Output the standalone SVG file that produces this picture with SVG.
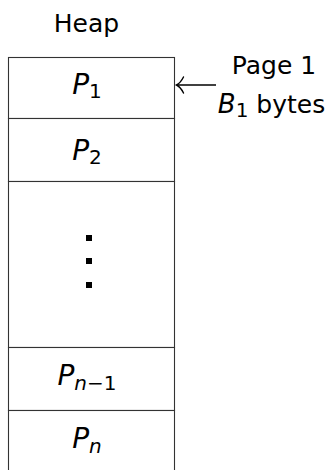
<svg xmlns="http://www.w3.org/2000/svg" width="336" height="470" viewBox="0 0 336 470">
  <style>
    text { font-family: "DejaVu Sans", "Liberation Sans", sans-serif; fill: #000; }
    .lbl { font-size: 25px; }
    .pg { font-size: 28px; font-style: italic; text-anchor: middle; }
    .sub { font-size: 20px; font-style: normal; }
    .subi { font-size: 20px; font-style: italic; }
    .cell { fill: #fff; stroke: #333; stroke-width: 1.1; }
  </style>

  <text class="lbl" x="86.5" y="32" text-anchor="middle">Heap</text>

  <g id="page1">
    <rect class="cell" x="8.5" y="57.5" width="166" height="61"/>
    <text class="pg" x="87" y="93.5">P<tspan class="sub" dy="4">1</tspan></text>
  </g>
  <g id="page2">
    <rect class="cell" x="8.5" y="118.5" width="166" height="63"/>
    <text class="pg" x="87" y="160">P<tspan class="sub" dy="4">2</tspan></text>
  </g>
  <g id="gap">
    <rect class="cell" x="8.5" y="181.5" width="166" height="166"/>
    <rect x="86" y="235" width="6" height="6" fill="#000"/>
    <rect x="86" y="258" width="6" height="6" fill="#000"/>
    <rect x="86" y="282" width="6" height="6" fill="#000"/>
  </g>
  <g id="pageN1">
    <rect class="cell" x="8.5" y="347.5" width="166" height="63"/>
    <text class="pg" x="87" y="384.5">P<tspan class="subi" dy="5">n</tspan><tspan class="sub">−1</tspan></text>
  </g>
  <g id="pageN">
    <rect class="cell" x="8.5" y="410.5" width="166" height="70"/>
    <text class="pg" x="87" y="447.5">P<tspan class="subi" dy="5">n</tspan></text>
  </g>

  <g id="label">
    <text class="lbl" x="274" y="74" text-anchor="middle">Page 1</text>
    <text class="lbl" x="271.5" y="113" text-anchor="middle"><tspan font-style="italic" font-size="26">B</tspan><tspan class="sub" font-size="18" dy="4">1</tspan><tspan dy="-4"> bytes</tspan></text>
  </g>

  <g id="connectors" fill="none" stroke="#000" stroke-width="1.4">
    <path d="M216 85 H177"/>
    <path d="M183.5 77 Q180.5 83 176.5 85 Q180.5 87 183.5 93" stroke-linecap="round"/>
  </g>
</svg>
